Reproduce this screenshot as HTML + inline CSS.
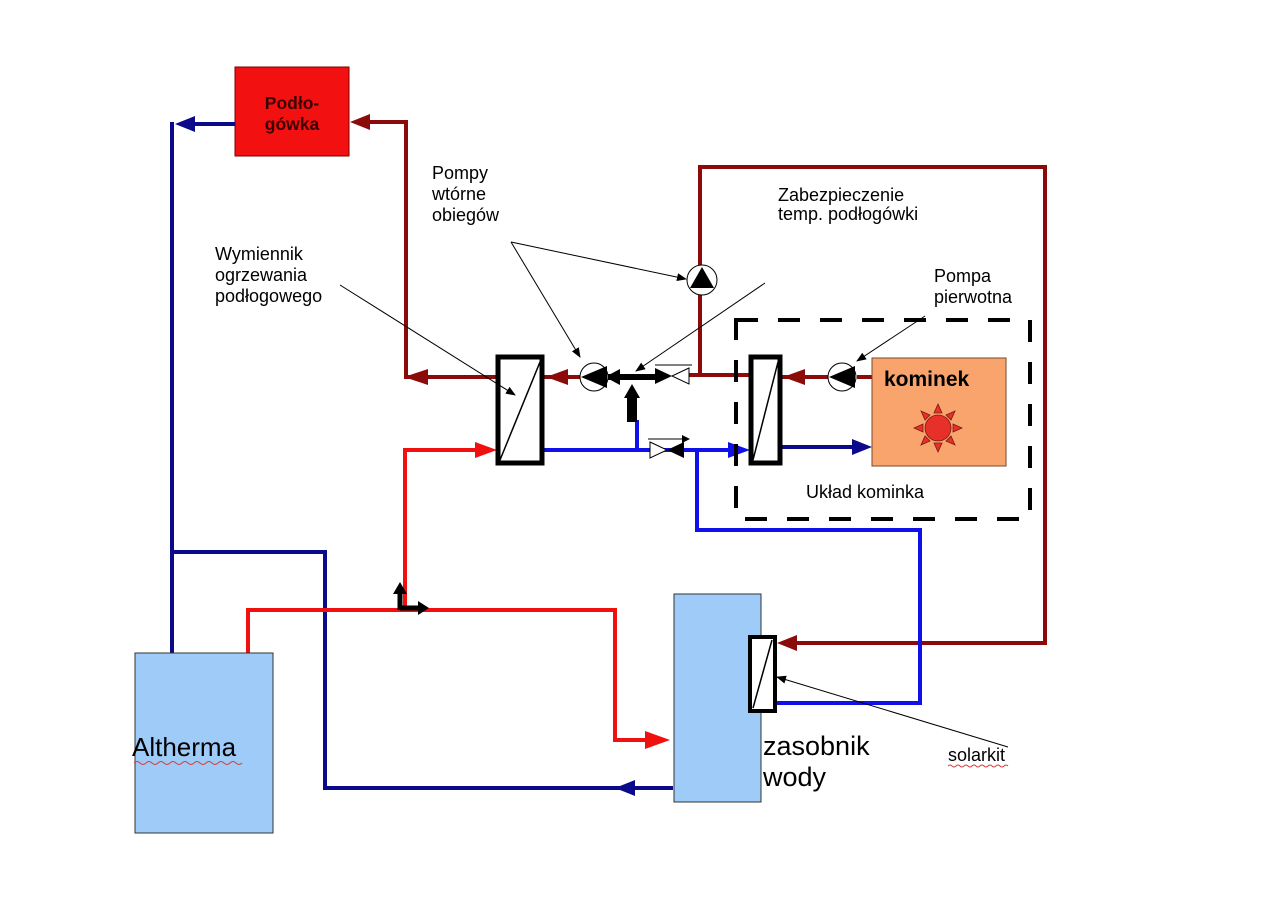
<!DOCTYPE html>
<html><head><meta charset="utf-8"><style>
body{margin:0;background:#fff}
svg{display:block}
text{font-family:"Liberation Sans",sans-serif}
</style></head><body>
<svg width="1280" height="905" viewBox="0 0 1280 905" xmlns="http://www.w3.org/2000/svg">
<defs>
<marker id="ldr" markerWidth="10" markerHeight="8" refX="9" refY="4" orient="auto" markerUnits="userSpaceOnUse"><path d="M0,0 L10,4 L0,8 Z" fill="#000"/></marker>
</defs>
<!-- Podlogowka -->
<rect x="235" y="67" width="114" height="89" fill="#f31010" stroke="#7a0000" stroke-width="1"/>
<text x="292" y="109" text-anchor="middle" font-size="17.5" font-weight="bold" fill="#3a0000">Podło-</text>
<text x="292" y="130" text-anchor="middle" font-size="17.5" font-weight="bold" fill="#3a0000">gówka</text>

<!-- dark blue lines -->
<g stroke="#0a0a8a" stroke-width="4" fill="none">
<polyline points="235,124 190,124"/>
<polyline points="172,122 172,653"/>
<polyline points="172,552 325,552 325,788 673,788"/>
<polyline points="780,447 860,447"/>
</g>
<path d="M175,124 L195,116 L195,132 Z" fill="#0a0a8a"/>
<path d="M615,788 L635,780 L635,796 Z" fill="#0a0a8a"/>
<path d="M872,447 L852,439 L852,455 Z" fill="#0a0a8a"/>

<!-- dark red lines -->
<g stroke="#8b0a0a" stroke-width="4" fill="none">
<polyline points="365,122 406,122 406,377 497,377"/>
<polyline points="543,377 580,377"/>
<polyline points="688,375 750,375"/>
<polyline points="700,375 700,167 1045,167 1045,643 790,643"/>
<polyline points="780,377 828,377"/>
<polyline points="857,377 872,377"/>
</g>
<path d="M350,122 L370,114 L370,130 Z" fill="#8b0a0a"/>
<path d="M404,377 L428,369 L428,385 Z" fill="#8b0a0a"/>
<path d="M546,377 L568,369 L568,385 Z" fill="#8b0a0a"/>
<path d="M783,377 L805,369 L805,385 Z" fill="#8b0a0a"/>
<path d="M777,643 L797,635 L797,651 Z" fill="#8b0a0a"/>

<!-- blue lines -->
<g stroke="#1010e8" stroke-width="4" fill="none">
<polyline points="543,450 738,450"/>
<polyline points="637,450 637,420"/>
<polyline points="697,450 697,530 920,530 920,703 776,703"/>
</g>
<path d="M750,450 L728,442 L728,458 Z" fill="#1010e8"/>

<!-- red lines -->
<g stroke="#f01010" stroke-width="4" fill="none">
<polyline points="477,450 405,450 405,610"/>
<polyline points="248,653 248,610 615,610 615,740 645,740"/>
</g>
<path d="M497,450 L475,442 L475,458 Z" fill="#f01010"/>
<path d="M670,740 L645,731 L645,749 Z" fill="#f01010"/>

<!-- black corner arrow -->
<path d="M400,610 L400,594 M400,608 L420,608" stroke="#000" stroke-width="5" fill="none"/>
<path d="M400,582 L393,594 L407,594 Z" fill="#000"/>
<path d="M429,608 L418,601 L418,615 Z" fill="#000"/>

<!-- black T arrows near pumps -->
<path d="M608,377 L655,377" stroke="#000" stroke-width="6"/>
<path d="M605,377 L620,369 L620,385 Z" fill="#000"/>
<rect x="627" y="398" width="10" height="24" fill="#000"/>
<path d="M632,384 L624,398 L640,398 Z" fill="#000"/>

<!-- valves -->
<path d="M655,368 L672,376 L655,384 Z" fill="#000"/>
<path d="M689,368 L672,376 L689,384 Z" fill="#fff" stroke="#000" stroke-width="1"/>
<path d="M655,365 L692,365" stroke="#000" stroke-width="1"/>
<path d="M650,442 L667,450 L650,458 Z" fill="#fff" stroke="#000" stroke-width="1"/>
<path d="M684,442 L667,450 L684,458 Z" fill="#000"/>
<path d="M648,439 L686,439" stroke="#000" stroke-width="1"/>
<path d="M690,439 L682,435 L682,443 Z" fill="#000"/>

<!-- exchangers -->
<rect x="498" y="357" width="44" height="106" fill="#fff" stroke="#000" stroke-width="5"/>
<line x1="500" y1="460" x2="540" y2="362" stroke="#000" stroke-width="1.5"/>
<rect x="751" y="357" width="29" height="106" fill="#fff" stroke="#000" stroke-width="5"/>
<line x1="753" y1="460" x2="778" y2="362" stroke="#000" stroke-width="1.5"/>

<!-- pumps -->
<g stroke="#000" stroke-width="1" fill="#fff">
<circle cx="594" cy="377" r="14"/>
<circle cx="702" cy="280" r="15"/>
<circle cx="842" cy="377" r="14"/>
</g>
<path d="M581,377 L607,366 L607,388 Z" fill="#000"/>
<path d="M702,267 L690,288 L714,288 Z" fill="#000"/>
<path d="M829,377 L855,366 L855,388 Z" fill="#000"/>

<!-- kominek -->
<rect x="872" y="358" width="134" height="108" fill="#f8a46c" stroke="#7a4a2a" stroke-width="1"/>
<text x="884" y="386" font-size="21" font-weight="bold" fill="#000">kominek</text>
<g fill="#e8302a" stroke="#7a1a10" stroke-width="0.8">
<path d="M938,404 L934,413 L942,413 Z"/>
<path d="M938,452 L934,443 L942,443 Z"/>
<path d="M914,428 L923,424 L923,432 Z"/>
<path d="M962,428 L953,424 L953,432 Z"/>
<path d="M921,411 L925,420 L930,415 Z"/>
<path d="M955,411 L946,415 L951,420 Z"/>
<path d="M921,445 L930,441 L925,436 Z"/>
<path d="M955,445 L951,436 L946,441 Z"/>
<circle cx="938" cy="428" r="13"/>
</g>

<!-- dashed box -->
<rect x="736" y="320" width="294" height="199" fill="none" stroke="#000" stroke-width="4" stroke-dasharray="22,20"/>
<text x="806" y="498" font-size="18" fill="#000">Układ kominka</text>

<!-- Altherma -->
<rect x="135" y="653" width="138" height="180" fill="#9ecbf7" stroke="#333" stroke-width="1"/>
<text x="132" y="756" font-size="26" fill="#000">Altherma</text>
<path d="M134,763 q3,-3 6,0 t6,0 t6,0 t6,0 t6,0 t6,0 t6,0 t6,0 t6,0 t6,0 t6,0 t6,0 t6,0 t6,0 t6,0 t6,0 t6,0 t6,0" stroke="#d04040" stroke-width="1" fill="none"/>

<!-- zasobnik -->
<rect x="674" y="594" width="87" height="208" fill="#9ecbf7" stroke="#333" stroke-width="1"/>
<text x="763" y="755" font-size="27" fill="#000">zasobnik</text>
<text x="763" y="786" font-size="27" fill="#000">wody</text>
<rect x="750" y="637" width="25" height="74" fill="#fff" stroke="#000" stroke-width="4"/>
<line x1="753" y1="708" x2="772" y2="640" stroke="#000" stroke-width="1.5"/>

<!-- labels -->
<g font-size="18" fill="#000">
<text x="432" y="179">Pompy</text>
<text x="432" y="200">wtórne</text>
<text x="432" y="221">obiegów</text>
<text x="778" y="201">Zabezpieczenie</text>
<text x="778" y="220">temp. podłogówki</text>
<text x="215" y="260">Wymiennik</text>
<text x="215" y="281">ogrzewania</text>
<text x="215" y="302">podłogowego</text>
<text x="934" y="282">Pompa</text>
<text x="934" y="303">pierwotna</text>
<text x="948" y="761">solarkit</text>
</g>
<path d="M948,766 q2,-2 4,0 t4,0 t4,0 t4,0 t4,0 t4,0 t4,0 t4,0 t4,0 t4,0 t4,0 t4,0 t4,0 t4,0 t4,0" stroke="#d04040" stroke-width="1" fill="none"/>

<!-- leader lines -->
<g stroke="#000" stroke-width="1" fill="none" marker-end="url(#ldr)">
<line x1="340" y1="285" x2="515" y2="395"/>
<line x1="511" y1="242" x2="580" y2="357"/>
<line x1="511" y1="242" x2="686" y2="279"/>
<line x1="765" y1="283" x2="636" y2="371"/>
<line x1="925" y1="316" x2="857" y2="361"/>
<line x1="1008" y1="747" x2="777" y2="677"/>
</g>
</svg>
</body></html>
